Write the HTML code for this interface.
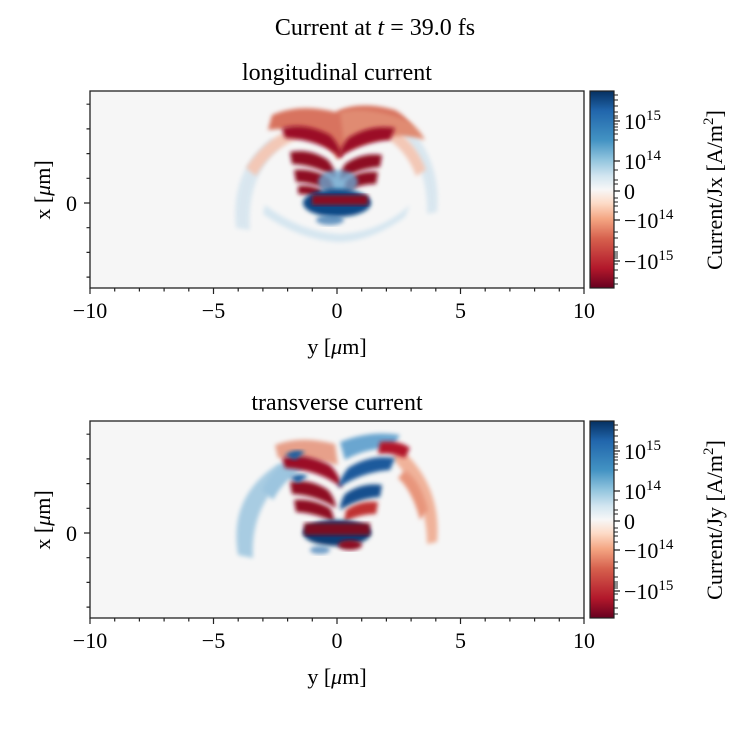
<!DOCTYPE html>
<html><head><meta charset="utf-8"><style>
body{margin:0;background:#fff}
svg text{font-family:"Liberation Serif",serif;fill:#000}
</style></head><body>
<svg width="750" height="750" viewBox="0 0 750 750" xmlns="http://www.w3.org/2000/svg">
<defs>
<filter id="b1" x="-20%" y="-20%" width="140%" height="140%"><feGaussianBlur stdDeviation="2"/></filter>
<linearGradient id="cb" x1="0" y1="0" x2="0" y2="1">
<stop offset="0" stop-color="#053061"/><stop offset="0.1" stop-color="#2166ac"/><stop offset="0.25" stop-color="#4393c3"/><stop offset="0.35" stop-color="#92c5de"/><stop offset="0.43" stop-color="#d1e5f0"/><stop offset="0.5" stop-color="#f7f7f7"/><stop offset="0.57" stop-color="#fddbc7"/><stop offset="0.65" stop-color="#f4a582"/><stop offset="0.75" stop-color="#d6604d"/><stop offset="0.9" stop-color="#b2182b"/><stop offset="1" stop-color="#67001f"/>
</linearGradient>
<clipPath id="cp"><rect x="90" y="91" width="494" height="197"/></clipPath>
<g id="axes">
 <path d="M90,288v6M114.7,288v3.5M139.4,288v3.5M164.1,288v3.5M188.8,288v3.5M213.5,288v6M238.2,288v3.5M262.9,288v3.5M287.6,288v3.5M312.3,288v3.5M337,288v6M361.7,288v3.5M386.4,288v3.5M411.1,288v3.5M435.8,288v3.5M460.5,288v6M485.2,288v3.5M509.9,288v3.5M534.6,288v3.5M559.3,288v3.5M584,288v6
 M90,104.2h-3.5M90,128.9h-3.5M90,153.6h-3.5M90,178.3h-3.5M90,203h-6M90,227.7h-3.5M90,252.4h-3.5M90,277.1h-3.5
 M614,121h6M614,161h6M614,191h6M614,220h6M614,261h6" stroke="#222" stroke-width="1.2" fill="none"/>
 <path d="M614,95h4M614,100h4M614,106h4M614,112h4M614,116h4M614,118h4M614,124h4M614,127h4M614,130h4M614,134h4M614,140h4M614,170h4M614,180h4M614,184h4M614,198h4M614,202h4M614,206h4M614,212h4M614,232h4M614,238h4M614,247h4M614,252h4M614,254h4M614,256h4M614,258h4M614,264h4M614,270h4M614,278h4M614,284h4" stroke="#222" stroke-width="1" fill="none"/>
 <rect x="590" y="91" width="24" height="197" fill="url(#cb)" stroke="#222" stroke-width="1.2"/>
</g>
</defs>

<text x="375" y="35" font-size="24" text-anchor="middle">Current at <tspan font-style="italic">t</tspan> = 39.0 fs</text>

<!-- ===== Plot 1 ===== -->
<text x="337" y="80" font-size="24" text-anchor="middle">longitudinal current</text>
<rect x="90" y="91" width="494" height="197" fill="#f6f6f6"/>
<g clip-path="url(#cp)">
 <path d="M236,228 Q230,170 272,138 L280,146 Q246,178 250,230 Z" fill="#d2e3ee" filter="url(#b1)" opacity="0.8"/>
 <path d="M437,212 Q442,160 405,122 L398,130 Q428,165 427,214 Z" fill="#d2e3ee" filter="url(#b1)" opacity="0.8"/>
 <path d="M246,168 Q266,136 300,126 L300,138 Q272,148 256,176 Z" fill="#f3c7b6" filter="url(#b1)"/>
 <path d="M426,170 Q414,138 385,124 L380,134 Q406,148 416,176 Z" fill="#f3c7b6" filter="url(#b1)"/>
 <path d="M265,205 Q300,232 340,234 Q380,232 410,205 L405,217 Q370,242 338,242 Q300,240 263,214 Z" fill="#d6e6f0" filter="url(#b1)"/>
 <path d="M272,115 Q300,103 335,112 Q360,100 395,110 Q410,118 412,132 Q395,125 370,130 Q350,140 338,160 Q325,138 300,130 Q282,128 268,130 Z" fill="#d8735e" filter="url(#b1)"/>
 <path d="M340,112 Q370,105 410,122 Q420,130 425,140 Q400,132 372,140 L345,150 Z" fill="#e08b72" filter="url(#b1)"/>
 <path d="M282,128 Q305,122 330,135 Q340,145 342,158 Q320,140 285,138 Z" fill="#9b0c25" filter="url(#b1)"/>
 <path d="M290,152 Q310,148 328,160 Q335,168 336,178 Q315,165 292,164 Z" fill="#8e0a24" filter="url(#b1)"/>
 <path d="M294,170 Q312,168 330,178 Q334,185 334,192 Q315,183 296,182 Z" fill="#8e0a24" filter="url(#b1)"/>
 <path d="M298,186 Q310,184 322,190 L320,198 Q308,194 298,194 Z" fill="#8e0a24" filter="url(#b1)"/>
 <path d="M395,128 Q370,124 348,138 Q340,148 338,158 Q362,142 390,140 Z" fill="#9b0c25" filter="url(#b1)"/>
 <path d="M382,155 Q362,152 345,164 Q340,172 340,180 Q360,168 380,167 Z" fill="#8e0a24" filter="url(#b1)"/>
 <path d="M378,172 Q360,170 346,180 L344,192 Q360,184 376,184 Z" fill="#8e0a24" filter="url(#b1)"/>
 <ellipse cx="338" cy="182" rx="20" ry="12" fill="#6aa6cf" filter="url(#b1)" opacity="0.8"/>
 <ellipse cx="337" cy="203" rx="34" ry="14" fill="#0d4a86" filter="url(#b1)"/>
 <rect x="312" y="195" width="56" height="10" fill="#8a0a22" filter="url(#b1)"/>
 <ellipse cx="330" cy="220" rx="14" ry="5" fill="#2f6fab" filter="url(#b1)" opacity="0.7"/>
</g>
<rect x="90" y="91" width="494" height="197" fill="none" stroke="#222" stroke-width="1.3"/>
<use href="#axes"/>

<!-- ===== Plot 2 ===== -->
<g transform="translate(0,330)">
<text x="337" y="80" font-size="24" text-anchor="middle">transverse current</text>
<rect x="90" y="91" width="494" height="197" fill="#f6f6f6"/>
<g clip-path="url(#cp)">
 <path d="M238,225 Q228,165 280,133 L290,143 Q250,175 253,228 Z" fill="#a8cce2" filter="url(#b1)"/>
 <path d="M262,160 Q278,128 310,122 L305,138 Q285,148 273,170 Z" fill="#9cc5df" filter="url(#b1)"/>
 <path d="M437,212 Q442,155 400,118 L392,128 Q427,165 427,214 Z" fill="#f0b29a" filter="url(#b1)"/>
 <path d="M405,140 Q420,150 428,180 L420,190 Q412,160 398,148 Z" fill="#e8957c" filter="url(#b1)"/>
 <path d="M275,115 Q300,105 335,114 L338,135 Q310,128 278,128 Z" fill="#e7a08a" filter="url(#b1)"/>
 <path d="M340,112 Q370,100 400,105 L392,118 Q365,118 345,130 Z" fill="#6aa6d0" filter="url(#b1)"/>
 <path d="M380,112 Q400,110 410,118 L405,128 Q390,122 378,124 Z" fill="#b2182b" filter="url(#b1)"/>
 <path d="M282,128 Q305,122 330,135 Q340,145 342,158 Q320,140 285,138 Z" fill="#9b0c25" filter="url(#b1)"/>
 <path d="M290,152 Q310,148 328,160 Q335,168 336,178 Q315,165 292,164 Z" fill="#8e0a24" filter="url(#b1)"/>
 <path d="M294,170 Q312,168 330,178 Q334,185 334,192 Q315,183 296,182 Z" fill="#8e0a24" filter="url(#b1)"/>
 <path d="M285,125 Q295,118 305,122 L295,130 Z" fill="#1f5fa0" filter="url(#b1)"/>
 <path d="M290,148 Q298,142 308,146 L298,153 Z" fill="#1f5fa0" filter="url(#b1)"/>
 <path d="M395,128 Q370,124 348,138 Q340,148 338,158 Q362,142 390,140 Z" fill="#1b5a9c" filter="url(#b1)"/>
 <path d="M382,155 Q362,152 345,164 Q340,172 340,180 Q360,168 380,167 Z" fill="#16508f" filter="url(#b1)"/>
 <path d="M378,172 Q360,170 346,180 L344,192 Q360,184 376,184 Z" fill="#c03030" filter="url(#b1)"/>
 <ellipse cx="337" cy="203" rx="34" ry="13" fill="#0b3e75" filter="url(#b1)"/>
 <rect x="304" y="193" width="66" height="12" fill="#7a0820" filter="url(#b1)"/>
 <ellipse cx="350" cy="215" rx="12" ry="5" fill="#8e0a24" filter="url(#b1)"/>
 <ellipse cx="320" cy="220" rx="10" ry="4" fill="#3a7ab5" filter="url(#b1)" opacity="0.7"/>
</g>
<rect x="90" y="91" width="494" height="197" fill="none" stroke="#222" stroke-width="1.3"/>
<use href="#axes"/>
</g>

<!-- tick labels top -->
<g font-size="22" text-anchor="middle">
<text x="90" y="318">−10</text><text x="213.5" y="318">−5</text><text x="337" y="318">0</text><text x="460.5" y="318">5</text><text x="584" y="318">10</text>
<text x="337" y="354">y [<tspan font-style="italic">μ</tspan>m]</text>
<text x="90" y="648">−10</text><text x="213.5" y="648">−5</text><text x="337" y="648">0</text><text x="460.5" y="648">5</text><text x="584" y="648">10</text>
<text x="337" y="684">y [<tspan font-style="italic">μ</tspan>m]</text>
</g>
<g font-size="22" text-anchor="end">
<text x="77" y="211">0</text><text x="77" y="541">0</text>
</g>
<text font-size="22" text-anchor="middle" transform="translate(50,190) rotate(-90)">x [<tspan font-style="italic">μ</tspan>m]</text>
<text font-size="22" text-anchor="middle" transform="translate(50,520) rotate(-90)">x [<tspan font-style="italic">μ</tspan>m]</text>

<!-- colorbar labels -->
<g font-size="22">
<text x="624" y="129">10<tspan dy="-9" font-size="15">15</tspan></text>
<text x="624" y="169">10<tspan dy="-9" font-size="15">14</tspan></text>
<text x="624" y="199">0</text>
<text x="624" y="228">−10<tspan dy="-9" font-size="15">14</tspan></text>
<text x="624" y="269">−10<tspan dy="-9" font-size="15">15</tspan></text>
<text x="624" y="459">10<tspan dy="-9" font-size="15">15</tspan></text>
<text x="624" y="499">10<tspan dy="-9" font-size="15">14</tspan></text>
<text x="624" y="529">0</text>
<text x="624" y="558">−10<tspan dy="-9" font-size="15">14</tspan></text>
<text x="624" y="599">−10<tspan dy="-9" font-size="15">15</tspan></text>
</g>
<text font-size="22" text-anchor="middle" transform="translate(722,190) rotate(-90)">Current/Jx [A/m<tspan dy="-9" font-size="15">2</tspan><tspan dy="9">]</tspan></text>
<text font-size="22" text-anchor="middle" transform="translate(722,520) rotate(-90)">Current/Jy [A/m<tspan dy="-9" font-size="15">2</tspan><tspan dy="9">]</tspan></text>
</svg>
</body></html>
